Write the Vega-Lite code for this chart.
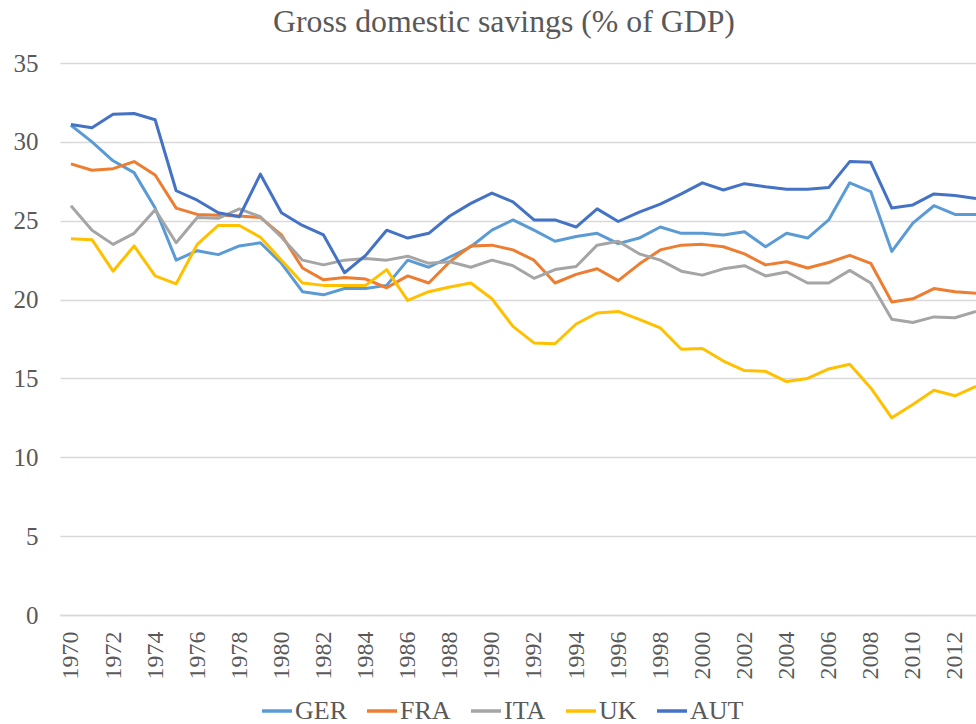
{
  "$schema": "https://vega.github.io/schema/vega-lite/v6.json",
  "autosize": "none",
  "width": 916,
  "height": 552,
  "padding": {"left": 60, "top": 63, "right": 0, "bottom": 109},
  "background": "white",
  "title": {
    "text": "Gross domestic savings (% of GDP)",
    "font": "Liberation Serif",
    "fontSize": 31.8,
    "fontWeight": "normal",
    "color": "#595959",
    "anchor": "middle",
    "dx": -14,
    "offset": 12
  },
  "data": {
    "values": [
      {"year": 1970, "GER": 31.05, "FRA": 28.6, "ITA": 25.95, "UK": 23.85, "AUT": 31.1},
      {"year": 1971, "GER": 30.0, "FRA": 28.2, "ITA": 24.4, "UK": 23.8, "AUT": 30.9},
      {"year": 1972, "GER": 28.8, "FRA": 28.3, "ITA": 23.5, "UK": 21.8, "AUT": 31.75},
      {"year": 1973, "GER": 28.05, "FRA": 28.75, "ITA": 24.2, "UK": 23.4, "AUT": 31.8},
      {"year": 1974, "GER": 25.8, "FRA": 27.9, "ITA": 25.7, "UK": 21.5, "AUT": 31.4},
      {"year": 1975, "GER": 22.5, "FRA": 25.8, "ITA": 23.6, "UK": 21.0, "AUT": 26.9},
      {"year": 1976, "GER": 23.1, "FRA": 25.4, "ITA": 25.2, "UK": 23.5, "AUT": 26.3},
      {"year": 1977, "GER": 22.85, "FRA": 25.35, "ITA": 25.15, "UK": 24.7, "AUT": 25.5},
      {"year": 1978, "GER": 23.4, "FRA": 25.3, "ITA": 25.75, "UK": 24.7, "AUT": 25.25},
      {"year": 1979, "GER": 23.6, "FRA": 25.2, "ITA": 25.25, "UK": 23.95, "AUT": 27.95},
      {"year": 1980, "GER": 22.3, "FRA": 24.1, "ITA": 23.95, "UK": 22.5, "AUT": 25.5},
      {"year": 1981, "GER": 20.5, "FRA": 22.0, "ITA": 22.5, "UK": 21.05, "AUT": 24.7},
      {"year": 1982, "GER": 20.3, "FRA": 21.25, "ITA": 22.2, "UK": 20.9, "AUT": 24.1},
      {"year": 1983, "GER": 20.7, "FRA": 21.4, "ITA": 22.5, "UK": 20.9, "AUT": 21.7},
      {"year": 1984, "GER": 20.7, "FRA": 21.3, "ITA": 22.6, "UK": 20.9, "AUT": 22.8},
      {"year": 1985, "GER": 20.9, "FRA": 20.75, "ITA": 22.5, "UK": 21.9, "AUT": 24.4},
      {"year": 1986, "GER": 22.5, "FRA": 21.5, "ITA": 22.75, "UK": 19.95, "AUT": 23.9},
      {"year": 1987, "GER": 22.05, "FRA": 21.05, "ITA": 22.3, "UK": 20.5, "AUT": 24.2},
      {"year": 1988, "GER": 22.7, "FRA": 22.4, "ITA": 22.4, "UK": 20.8, "AUT": 25.3},
      {"year": 1989, "GER": 23.35, "FRA": 23.4, "ITA": 22.05, "UK": 21.05, "AUT": 26.1},
      {"year": 1990, "GER": 24.4, "FRA": 23.45, "ITA": 22.5, "UK": 20.05, "AUT": 26.75},
      {"year": 1991, "GER": 25.05, "FRA": 23.15, "ITA": 22.15, "UK": 18.3, "AUT": 26.2},
      {"year": 1992, "GER": 24.4, "FRA": 22.5, "ITA": 21.35, "UK": 17.25, "AUT": 25.05},
      {"year": 1993, "GER": 23.7, "FRA": 21.05, "ITA": 21.9, "UK": 17.2, "AUT": 25.05},
      {"year": 1994, "GER": 24.0, "FRA": 21.6, "ITA": 22.1, "UK": 18.45, "AUT": 24.6},
      {"year": 1995, "GER": 24.2, "FRA": 21.95, "ITA": 23.45, "UK": 19.15, "AUT": 25.75},
      {"year": 1996, "GER": 23.55, "FRA": 21.2, "ITA": 23.7, "UK": 19.25, "AUT": 24.95},
      {"year": 1997, "GER": 23.9, "FRA": 22.25, "ITA": 22.9, "UK": 18.75, "AUT": 25.55},
      {"year": 1998, "GER": 24.6, "FRA": 23.15, "ITA": 22.5, "UK": 18.2, "AUT": 26.05},
      {"year": 1999, "GER": 24.2, "FRA": 23.45, "ITA": 21.8, "UK": 16.85, "AUT": 26.7},
      {"year": 2000, "GER": 24.2, "FRA": 23.5, "ITA": 21.55, "UK": 16.9, "AUT": 27.4},
      {"year": 2001, "GER": 24.1, "FRA": 23.35, "ITA": 21.95, "UK": 16.1, "AUT": 26.95},
      {"year": 2002, "GER": 24.3, "FRA": 22.9, "ITA": 22.15, "UK": 15.5, "AUT": 27.35},
      {"year": 2003, "GER": 23.35, "FRA": 22.2, "ITA": 21.5, "UK": 15.45, "AUT": 27.15},
      {"year": 2004, "GER": 24.2, "FRA": 22.4, "ITA": 21.75, "UK": 14.8, "AUT": 27.0},
      {"year": 2005, "GER": 23.9, "FRA": 22.0, "ITA": 21.05, "UK": 15.0, "AUT": 27.0},
      {"year": 2006, "GER": 25.05, "FRA": 22.35, "ITA": 21.05, "UK": 15.6, "AUT": 27.1},
      {"year": 2007, "GER": 27.4, "FRA": 22.8, "ITA": 21.85, "UK": 15.9, "AUT": 28.75},
      {"year": 2008, "GER": 26.85, "FRA": 22.3, "ITA": 21.05, "UK": 14.4, "AUT": 28.7},
      {"year": 2009, "GER": 23.05, "FRA": 19.85, "ITA": 18.75, "UK": 12.5, "AUT": 25.8},
      {"year": 2010, "GER": 24.85, "FRA": 20.05, "ITA": 18.55, "UK": 13.35, "AUT": 26.0},
      {"year": 2011, "GER": 25.95, "FRA": 20.7, "ITA": 18.9, "UK": 14.25, "AUT": 26.7},
      {"year": 2012, "GER": 25.4, "FRA": 20.5, "ITA": 18.85, "UK": 13.9, "AUT": 26.6},
      {"year": 2013, "GER": 25.4, "FRA": 20.4, "ITA": 19.25, "UK": 14.5, "AUT": 26.4}
    ]
  },
  "transform": [
    {"fold": ["GER", "FRA", "ITA", "UK", "AUT"], "as": ["country", "value"]}
  ],
  "mark": {"type": "line", "strokeWidth": 3, "strokeJoin": "round", "clip": false},
  "encoding": {
    "x": {
      "field": "year",
      "type": "quantitative",
      "scale": {"domain": [1969.48, 2013], "nice": false, "zero": false},
      "axis": {
        "title": null,
        "values": [1970, 1972, 1974, 1976, 1978, 1980, 1982, 1984, 1986, 1988, 1990, 1992, 1994, 1996, 1998, 2000, 2002, 2004, 2006, 2008, 2010, 2012],
        "format": "d",
        "labelAngle": 270,
        "labelAlign": "right",
        "labelBaseline": "middle",
        "labelFont": "Liberation Serif",
        "labelFontSize": 24,
        "labelColor": "#595959",
        "labelPadding": 16,
        "labelOverlap": false,
        "labelFlush": false,
        "ticks": false,
        "grid": false,
        "domainColor": "#D9D9D9",
        "domainWidth": 1.5
      }
    },
    "y": {
      "field": "value",
      "type": "quantitative",
      "scale": {"domain": [0, 35], "nice": false},
      "axis": {
        "title": null,
        "values": [0, 5, 10, 15, 20, 25, 30, 35],
        "labelFont": "Liberation Serif",
        "labelFontSize": 25,
        "labelColor": "#595959",
        "labelPadding": 22,
        "ticks": false,
        "domain": false,
        "gridColor": "#D9D9D9",
        "gridWidth": 1.5
      }
    },
    "color": {
      "field": "country",
      "type": "nominal",
      "scale": {
        "domain": ["GER", "FRA", "ITA", "UK", "AUT"],
        "range": ["#5B9BD5", "#ED7D31", "#A5A5A5", "#FFC000", "#4472C4"]
      },
      "legend": {
        "title": null,
        "orient": "none",
        "direction": "horizontal",
        "legendX": 200,
        "legendY": 631,
        "symbolType": "stroke",
        "symbolStrokeWidth": 3.5,
        "symbolSize": 900,
        "labelFont": "Liberation Serif",
        "labelFontSize": 26,
        "labelColor": "#595959",
        "labelOffset": 1,
        "columnPadding": 13
      }
    }
  },
  "config": {"view": {"stroke": null}}
}
